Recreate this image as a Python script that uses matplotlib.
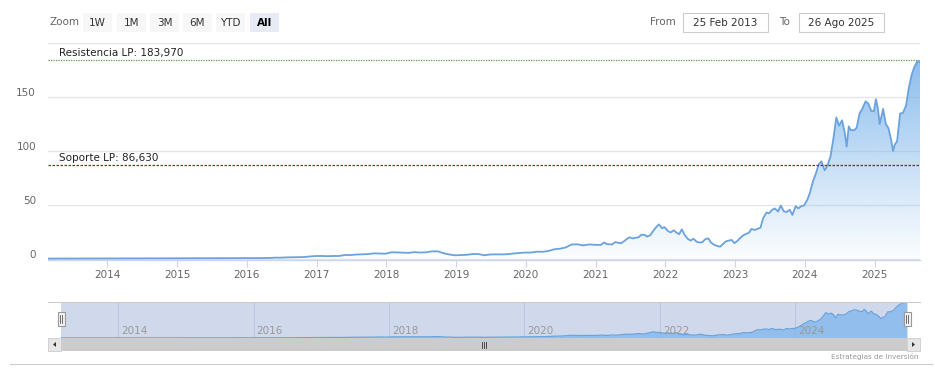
import matplotlib
matplotlib.use('Agg')
import matplotlib.pyplot as plt
import matplotlib.dates as mdates
import matplotlib.patches as patches
from matplotlib.colors import to_rgb
import numpy as np
import pandas as pd

# --- datos (cierre aproximado, ajustado por splits) ---
dates = [
    '2013-02-25',
    '2013-03-28', '2013-04-28', '2013-05-28', '2013-06-28', '2013-07-28', '2013-08-28', '2013-09-28', '2013-10-28', '2013-11-28', '2013-12-28',
    '2014-01-28', '2014-02-28', '2014-03-28', '2014-04-28', '2014-05-28', '2014-06-28', '2014-07-28', '2014-08-28', '2014-09-28', '2014-10-28', '2014-11-28', '2014-12-28',
    '2015-01-28', '2015-02-28', '2015-03-28', '2015-04-28', '2015-05-28', '2015-06-28', '2015-07-28', '2015-08-28', '2015-09-28', '2015-10-28', '2015-11-28', '2015-12-28',
    '2016-01-28', '2016-02-28', '2016-03-28', '2016-04-28', '2016-05-28', '2016-06-28', '2016-07-28', '2016-08-28', '2016-09-28', '2016-10-28', '2016-11-28', '2016-12-28',
    '2017-01-28', '2017-02-28', '2017-03-28', '2017-04-28', '2017-05-28', '2017-06-28', '2017-07-28', '2017-08-28', '2017-09-28', '2017-10-28', '2017-11-28', '2017-12-28',
    '2018-01-28', '2018-02-28', '2018-03-28', '2018-04-28', '2018-05-28', '2018-06-28', '2018-07-28', '2018-08-28', '2018-09-28', '2018-10-28', '2018-11-28', '2018-12-28',
    '2019-01-28', '2019-02-28', '2019-03-28', '2019-04-28', '2019-05-28', '2019-06-28', '2019-07-28', '2019-08-28', '2019-09-28', '2019-10-28', '2019-11-28', '2019-12-28',
    '2020-01-28', '2020-02-28', '2020-03-28', '2020-04-28', '2020-05-28', '2020-06-28', '2020-07-28', '2020-08-28', '2020-09-28', '2020-10-28', '2020-11-28', '2020-12-28',
    '2021-01-14', '2021-01-28', '2021-02-14', '2021-02-28', '2021-03-14', '2021-03-28', '2021-04-14', '2021-04-28', '2021-05-14', '2021-05-28', '2021-06-14', '2021-06-28',
    '2021-07-14', '2021-07-28', '2021-08-14', '2021-08-28', '2021-09-14', '2021-09-28', '2021-10-14', '2021-10-28', '2021-11-14', '2021-11-28', '2021-12-14', '2021-12-28',
    '2022-01-14', '2022-01-28', '2022-02-14', '2022-02-28', '2022-03-14', '2022-03-28', '2022-04-14', '2022-04-28', '2022-05-14', '2022-05-28', '2022-06-14', '2022-06-28',
    '2022-07-14', '2022-07-28', '2022-08-14', '2022-08-28', '2022-09-14', '2022-09-28', '2022-10-14', '2022-10-28', '2022-11-14', '2022-11-28', '2022-12-14', '2022-12-28',
    '2023-01-14', '2023-01-28', '2023-02-14', '2023-02-28', '2023-03-14', '2023-03-28', '2023-04-14', '2023-04-28', '2023-05-14', '2023-05-28', '2023-06-14', '2023-06-28',
    '2023-07-14', '2023-07-28', '2023-08-14', '2023-08-28', '2023-09-14', '2023-09-28', '2023-10-14', '2023-10-28', '2023-11-14', '2023-11-28', '2023-12-14', '2023-12-28',
    '2024-01-14', '2024-01-28', '2024-02-14', '2024-02-28', '2024-03-14', '2024-03-28', '2024-04-14', '2024-04-28', '2024-05-14', '2024-05-28', '2024-06-14', '2024-06-28',
    '2024-07-14', '2024-07-28', '2024-08-07', '2024-08-18', '2024-08-28', '2024-09-14', '2024-09-28', '2024-10-14', '2024-10-28', '2024-11-14', '2024-11-28', '2024-12-14', '2024-12-28',
    '2025-01-07', '2025-01-17', '2025-01-27', '2025-02-14', '2025-02-28', '2025-03-14', '2025-03-28', '2025-04-07', '2025-04-16', '2025-04-28', '2025-05-14', '2025-05-28',
    '2025-06-14', '2025-06-28', '2025-07-14', '2025-07-28', '2025-08-12', '2025-08-26',
]
close = [
    0.31,
    0.32, 0.34, 0.36, 0.35, 0.35, 0.37, 0.37, 0.38, 0.39, 0.40,
    0.39, 0.45, 0.45, 0.46, 0.47, 0.46, 0.44, 0.48, 0.46, 0.48, 0.51, 0.50,
    0.48, 0.57, 0.52, 0.55, 0.55, 0.50, 0.50, 0.56, 0.62, 0.71, 0.80, 0.82,
    0.73, 0.78, 0.89, 0.89, 1.17, 1.17, 1.43, 1.53, 1.71, 1.74, 2.30, 2.67,
    2.73, 2.53, 2.72, 2.70, 3.61, 3.61, 4.06, 4.23, 4.47, 5.17, 5.00, 4.84,
    6.14, 6.04, 5.79, 5.62, 6.31, 5.92, 6.12, 7.02, 7.03, 5.27, 4.09, 3.34,
    3.59, 3.85, 4.49, 4.52, 3.38, 4.10, 4.22, 4.19, 4.35, 5.03, 5.42, 5.88,
    5.91, 6.75, 6.59, 7.31, 8.88, 9.50, 10.62, 13.38, 13.53, 12.53, 13.41, 13.05,
    13.0, 13.0, 15.2, 13.7, 13.5, 13.4, 15.6, 15.0, 14.5, 16.2, 18.6, 20.0,
    19.0, 19.5, 20.1, 22.4, 22.3, 20.7, 22.0, 25.6, 29.5, 32.0, 28.5, 29.4,
    25.9, 24.5, 26.5, 24.4, 22.9, 27.3, 21.7, 18.6, 17.0, 18.7, 15.9, 15.2,
    15.5, 18.2, 19.0, 15.1, 13.0, 12.1, 11.3, 13.5, 16.3, 16.9, 17.6, 14.6,
    16.8, 19.5, 22.0, 23.2, 24.2, 27.8, 26.8, 27.8, 29.0, 37.8, 42.9, 42.3,
    45.5, 46.7, 43.9, 49.4, 43.9, 43.5, 45.5, 40.8, 48.9, 46.8, 48.9, 49.5,
    54.7, 61.5, 72.6, 79.1, 87.8, 90.4, 82.0, 86.4, 94.6, 109.6, 131.0, 123.5,
    128.4, 117.0, 104.0, 122.8, 119.4, 119.1, 121.4, 135.0, 139.0, 146.0, 144.0, 137.0, 137.0,
    148.0, 140.0, 125.0, 139.0, 125.0, 121.0, 110.0, 100.0, 106.0, 108.9, 134.8, 135.1,
    142.0, 158.0, 171.0, 178.0, 183.0, 182.0,
]
resistencia = 183.970
soporte = 86.630
y_ticks = [0, 50, 100, 150, 200]
x_years = list(range(2014, 2026))
nav_years = [2014, 2016, 2018, 2020, 2022, 2024]
zoom_buttons = ['1W', '1M', '3M', '6M', 'YTD', 'All']
from_text = '25 Feb 2013'
to_text = '26 Ago 2025'

W, H = 935, 380
blue = '#7cb5ec'
line_blue = '#6aa3dd'

x = mdates.date2num(pd.to_datetime(dates))
x0 = mdates.date2num(pd.Timestamp('2013-02-25'))
x1 = mdates.date2num(pd.Timestamp('2025-08-26'))

fig = plt.figure(figsize=(W / 100, H / 100), dpi=100)
fig.patch.set_facecolor('white')

def box(l, t, r, b):
    return [l / W, 1 - b / H, (r - l) / W, (b - t) / H]

# --- gráfico principal ---
ax = fig.add_axes(box(48, 43, 920, 260))
ymin, ymax = -1, 200
poly = ax.fill_between(x, close, ymin, color='none', lw=0)
grad = np.zeros((256, 1, 4))
grad[..., :3] = to_rgb(blue)
grad[..., 3] = np.linspace(0.95, 0.02, 256)[:, None]
im = ax.imshow(grad, extent=[x0, x1, ymin, ymax], aspect='auto', origin='upper', zorder=1)
im.set_clip_path(poly.get_paths()[0], ax.transData)
ax.plot(x, close, color=line_blue, lw=1.3, zorder=3)

ax.set_xlim(x0, x1)
ax.set_ylim(ymin, ymax)
ax.set_yticks(y_ticks)
ax.yaxis.grid(True, color='#e6e6e6', lw=1)
ax.set_axisbelow(True)
ax.tick_params(axis='y', length=0, labelleft=False)
for v in y_ticks[:-1]:
    ax.annotate(str(v), xy=(0, v), xycoords=ax.get_yaxis_transform(), xytext=(-12, 4),
                textcoords='offset pixels', ha='right', va='center', fontsize=7.5, color='#666666')

ax.set_xticks(mdates.date2num([pd.Timestamp(f'{yr}-01-01') for yr in x_years]))
ax.set_xticklabels([str(yr) for yr in x_years])
ax.tick_params(axis='x', length=5, width=0.8, color='#ccd6eb', pad=2, labelsize=7.5, labelcolor='#666666')
for s in ['top', 'left', 'right']:
    ax.spines[s].set_visible(False)
ax.spines['bottom'].set_color('#ccd6eb')
ax.spines['bottom'].set_linewidth(1)

# líneas de resistencia y soporte
ax.axhline(resistencia, color='#5f9a48', lw=0.9, ls=(0, (1, 1)), zorder=4)
ax.axhline(soporte, color='#a01c1c', lw=0.9, ls=(0, (2, 1.2)), zorder=4)
ax.annotate('Resistencia LP: 183,970', xy=(0, resistencia), xycoords=ax.get_yaxis_transform(),
            xytext=(11, 2), textcoords='offset pixels', ha='left', va='bottom', fontsize=7.5, color='#222222')
ax.annotate('Soporte LP: 86,630', xy=(0, soporte), xycoords=ax.get_yaxis_transform(),
            xytext=(11, 2), textcoords='offset pixels', ha='left', va='bottom', fontsize=7.5, color='#222222')

# --- navegador ---
nav = fig.add_axes(box(61, 302, 907, 338))
nav.set_facecolor('#d0d9ec')
nav.fill_between(x, close, 0, color=blue, alpha=0.75, lw=0, zorder=2)
nav.plot(x, close, color=line_blue, lw=0.9, zorder=3)
nav.set_xlim(x0, x1)
nav.set_ylim(0, 186)
for yr in nav_years:
    xd = mdates.date2num(pd.Timestamp(f'{yr}-01-01'))
    nav.axvline(xd, color='#bcc6dc', lw=0.8, zorder=1)
    nav.annotate(str(yr), xy=(xd, 0), xycoords=('data', 'axes fraction'), xytext=(3, 7),
                 textcoords='offset pixels', ha='left', va='center', fontsize=7.5, color='#999999')
nav.set_xticks([])
nav.set_yticks([])
for s in nav.spines.values():
    s.set_visible(False)

# --- elementos de interfaz (coordenadas en píxeles) ---
ui = fig.add_axes([0, 0, 1, 1], zorder=10)
ui.set_xlim(0, W)
ui.set_ylim(H, 0)
ui.axis('off')

ui.text(49, 22, 'Zoom', fontsize=7.5, color='#666666', ha='left', va='center')
btn_x = [83, 117, 150, 183, 216, 250]
for bx, lab in zip(btn_x, zoom_buttons):
    sel = lab == 'All'
    ui.add_patch(patches.Rectangle((bx, 13), 29, 19, facecolor='#e6ebf5' if sel else '#f7f7f7',
                                   edgecolor='none'))
    ui.text(bx + 14.5, 22.5, lab, fontsize=7.5, ha='center', va='center',
            color='#000000' if sel else '#333333', fontweight='bold' if sel else 'normal')

ui.text(650, 22, 'From', fontsize=7.5, color='#666666', ha='left', va='center')
ui.add_patch(patches.Rectangle((683, 13), 85, 19, facecolor='white', edgecolor='#cccccc', lw=0.8))
ui.text(725.5, 22.5, from_text, fontsize=7.5, color='#333333', ha='center', va='center')
ui.text(779, 22, 'To', fontsize=7.5, color='#666666', ha='left', va='center')
ui.add_patch(patches.Rectangle((799, 13), 85, 19, facecolor='white', edgecolor='#cccccc', lw=0.8))
ui.text(841.5, 22.5, to_text, fontsize=7.5, color='#333333', ha='center', va='center')

# contorno del navegador
ui.plot([48, 920], [302, 302], color='#cccccc', lw=0.8)

# asas del navegador
for hx in [61, 907]:
    ui.add_patch(patches.Rectangle((hx - 3.5, 312), 7, 14, facecolor='#f2f2f2', edgecolor='#999999', lw=0.8))
    ui.plot([hx - 1, hx - 1], [315, 323], color='#333333', lw=0.5)
    ui.plot([hx + 1, hx + 1], [315, 323], color='#333333', lw=0.5)

# barra de desplazamiento
ui.add_patch(patches.Rectangle((61, 338), 846, 13, facecolor='#cccccc', edgecolor='none'))
ui.add_patch(patches.Rectangle((48, 338), 13, 13, facecolor='#e6e6e6', edgecolor='#cccccc', lw=0.6))
ui.add_patch(patches.Rectangle((907, 338), 13, 13, facecolor='#e6e6e6', edgecolor='#cccccc', lw=0.6))
ui.add_patch(patches.Polygon([[56, 342], [56, 347], [53, 344.5]], closed=True, facecolor='#333333', edgecolor='none'))
ui.add_patch(patches.Polygon([[912, 342], [912, 347], [915, 344.5]], closed=True, facecolor='#333333', edgecolor='none'))
for gx in [482, 484, 486]:
    ui.plot([gx, gx], [341.5, 347.5], color='#333333', lw=0.6)

ui.text(918, 357, 'Estrategias de Inversión', fontsize=5.2, color='#999999', ha='right', va='center')
ui.plot([10, 932], [364, 364], color='#cccccc', lw=0.8)

fig.savefig('out.png', dpi=100, facecolor='white')
